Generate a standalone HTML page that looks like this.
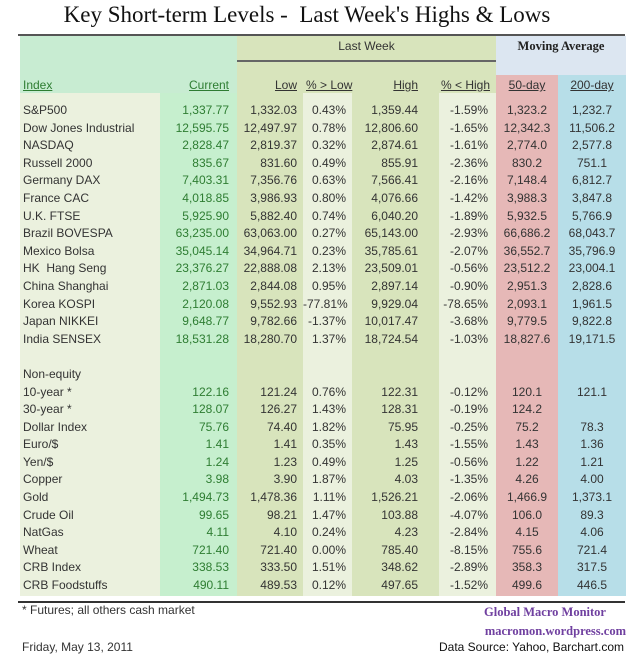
<!DOCTYPE html>
<html><head><meta charset="utf-8"><style>
body{margin:0;width:640px;height:656px;background:#fff;position:relative;overflow:hidden;font-family:"Liberation Sans",sans-serif;}
.a{position:absolute;}
.t{position:absolute;font-size:12px;color:#333;white-space:nowrap;line-height:17.6px;}
.r{text-align:right}.c{text-align:center}
.h{position:absolute;font-size:12px;top:77px;line-height:17px;text-decoration:underline;color:#333;white-space:nowrap;}
</style></head><body>
<div class="a" style="left:0;width:614px;top:2px;text-align:center;font-family:'Liberation Serif',serif;font-size:23px;color:#111;white-space:nowrap">Key Short-term Levels -&nbsp; Last Week's Highs &amp; Lows</div>
<div class="a" style="left:18px;width:607px;top:34px;height:2px;background:#555"></div>
<div class="a" style="left:20px;top:36px;width:217px;height:57px;background:#c8ecd2"></div>
<div class="a" style="left:237px;top:36px;width:259px;height:560px;background:#d8e4bc"></div>
<div class="a" style="left:496px;top:36px;width:130px;height:39px;background:#dce6f1"></div>
<div class="a" style="left:20px;top:93px;width:140px;height:503px;background:#ebf1de"></div>
<div class="a" style="left:160px;top:93px;width:77px;height:503px;background:#c6efce"></div>
<div class="a" style="left:303px;top:93px;width:49px;height:503px;background:#ebf1de"></div>
<div class="a" style="left:439px;top:93px;width:57px;height:503px;background:#ebf1de"></div>
<div class="a" style="left:496px;top:75px;width:62px;height:521px;background:#e6b8b7"></div>
<div class="a" style="left:558px;top:75px;width:68px;height:521px;background:#b7dee8"></div>
<div class="a" style="left:237px;top:39px;width:259px;text-align:center;font-size:12px;color:#333">Last Week</div>
<div class="a" style="left:237px;top:60px;width:259px;height:2px;background:#666"></div>
<div class="a" style="left:496px;top:39px;width:130px;text-align:center;font-family:'Liberation Serif',serif;font-weight:bold;font-size:12.5px;color:#222">Moving Average</div>
<div class="h" style="left:23px;color:#2e7d32">Index</div>
<div class="h" style="left:160px;width:69px;text-align:right;color:#2e7d32">Current</div>
<div class="h" style="left:237px;width:60px;text-align:right">Low</div>
<div class="h" style="left:306px">% &gt; Low</div>
<div class="h" style="left:352px;width:66px;text-align:right">High</div>
<div class="h" style="left:439px;width:51px;text-align:right">% &lt; High</div>
<div class="h" style="left:496px;width:62px;text-align:center">50-day</div>
<div class="h" style="left:558px;width:68px;text-align:center">200-day</div>
<div class="t" style="left:23px;top:102px">S&amp;P500<br>Dow Jones Industrial<br>NASDAQ<br>Russell 2000<br>Germany DAX<br>France CAC<br>U.K. FTSE<br>Brazil BOVESPA<br>Mexico Bolsa<br>HK&nbsp; Hang Seng<br>China Shanghai<br>Korea KOSPI<br>Japan NIKKEI<br>India SENSEX<br>&nbsp;<br>Non-equity<br>10-year *<br>30-year *<br>Dollar Index<br>Euro/$<br>Yen/$<br>Copper<br>Gold<br>Crude Oil<br>NatGas<br>Wheat<br>CRB Index<br>CRB Foodstuffs</div>
<div class="t r" style="left:160px;width:69px;top:102px;color:#2e7d32">1,337.77<br>12,595.75<br>2,828.47<br>835.67<br>7,403.31<br>4,018.85<br>5,925.90<br>63,235.00<br>35,045.14<br>23,376.27<br>2,871.03<br>2,120.08<br>9,648.77<br>18,531.28<br>&nbsp;<br>&nbsp;<br>122.16<br>128.07<br>75.76<br>1.41<br>1.24<br>3.98<br>1,494.73<br>99.65<br>4.11<br>721.40<br>338.53<br>490.11</div>
<div class="t r" style="left:237px;width:60px;top:102px">1,332.03<br>12,497.97<br>2,819.37<br>831.60<br>7,356.76<br>3,986.93<br>5,882.40<br>63,063.00<br>34,964.71<br>22,888.08<br>2,844.08<br>9,552.93<br>9,782.66<br>18,280.70<br>&nbsp;<br>&nbsp;<br>121.24<br>126.27<br>74.40<br>1.41<br>1.23<br>3.90<br>1,478.36<br>98.21<br>4.10<br>721.40<br>333.50<br>489.53</div>
<div class="t r" style="left:303px;width:43px;top:102px">0.43%<br>0.78%<br>0.32%<br>0.49%<br>0.63%<br>0.80%<br>0.74%<br>0.27%<br>0.23%<br>2.13%<br>0.95%<br>-77.81%<br>-1.37%<br>1.37%<br>&nbsp;<br>&nbsp;<br>0.76%<br>1.43%<br>1.82%<br>0.35%<br>0.49%<br>1.87%<br>1.11%<br>1.47%<br>0.24%<br>0.00%<br>1.51%<br>0.12%</div>
<div class="t r" style="left:352px;width:66px;top:102px">1,359.44<br>12,806.60<br>2,874.61<br>855.91<br>7,566.41<br>4,076.66<br>6,040.20<br>65,143.00<br>35,785.61<br>23,509.01<br>2,897.14<br>9,929.04<br>10,017.47<br>18,724.54<br>&nbsp;<br>&nbsp;<br>122.31<br>128.31<br>75.95<br>1.43<br>1.25<br>4.03<br>1,526.21<br>103.88<br>4.23<br>785.40<br>348.62<br>497.65</div>
<div class="t r" style="left:439px;width:49px;top:102px">-1.59%<br>-1.65%<br>-1.61%<br>-2.36%<br>-2.16%<br>-1.42%<br>-1.89%<br>-2.93%<br>-2.07%<br>-0.56%<br>-0.90%<br>-78.65%<br>-3.68%<br>-1.03%<br>&nbsp;<br>&nbsp;<br>-0.12%<br>-0.19%<br>-0.25%<br>-1.55%<br>-0.56%<br>-1.35%<br>-2.06%<br>-4.07%<br>-2.84%<br>-8.15%<br>-2.89%<br>-1.52%</div>
<div class="t c" style="left:496px;width:62px;top:102px">1,323.2<br>12,342.3<br>2,774.0<br>830.2<br>7,148.4<br>3,988.3<br>5,932.5<br>66,686.2<br>36,552.7<br>23,512.2<br>2,951.3<br>2,093.1<br>9,779.5<br>18,827.6<br>&nbsp;<br>&nbsp;<br>120.1<br>124.2<br>75.2<br>1.43<br>1.22<br>4.26<br>1,466.9<br>106.0<br>4.15<br>755.6<br>358.3<br>499.6</div>
<div class="t c" style="left:558px;width:68px;top:102px">1,232.7<br>11,506.2<br>2,577.8<br>751.1<br>6,812.7<br>3,847.8<br>5,766.9<br>68,043.7<br>35,796.9<br>23,004.1<br>2,828.6<br>1,961.5<br>9,822.8<br>19,171.5<br>&nbsp;<br>&nbsp;<br>121.1<br>&nbsp;<br>78.3<br>1.36<br>1.21<br>4.00<br>1,373.1<br>89.3<br>4.06<br>721.4<br>317.5<br>446.5</div>
<div class="a" style="left:18px;width:607px;top:601px;height:2px;background:#333"></div>
<div class="t" style="left:22px;top:602px">* Futures; all others cash market</div>
<div class="t" style="left:22px;top:639px">Friday, May 13, 2011</div>
<div class="a" style="left:460px;width:170px;top:605px;text-align:center;font-family:'Liberation Serif',serif;font-weight:bold;font-size:12.5px;color:#7040a0">Global Macro Monitor</div>
<div class="a" style="right:14px;top:624px;font-family:'Liberation Serif',serif;font-weight:bold;font-size:12.5px;color:#7040a0">macromon.wordpress.com</div>
<div class="t" style="right:16px;top:639px;color:#111">Data Source: Yahoo, Barchart.com</div>
</body></html>
